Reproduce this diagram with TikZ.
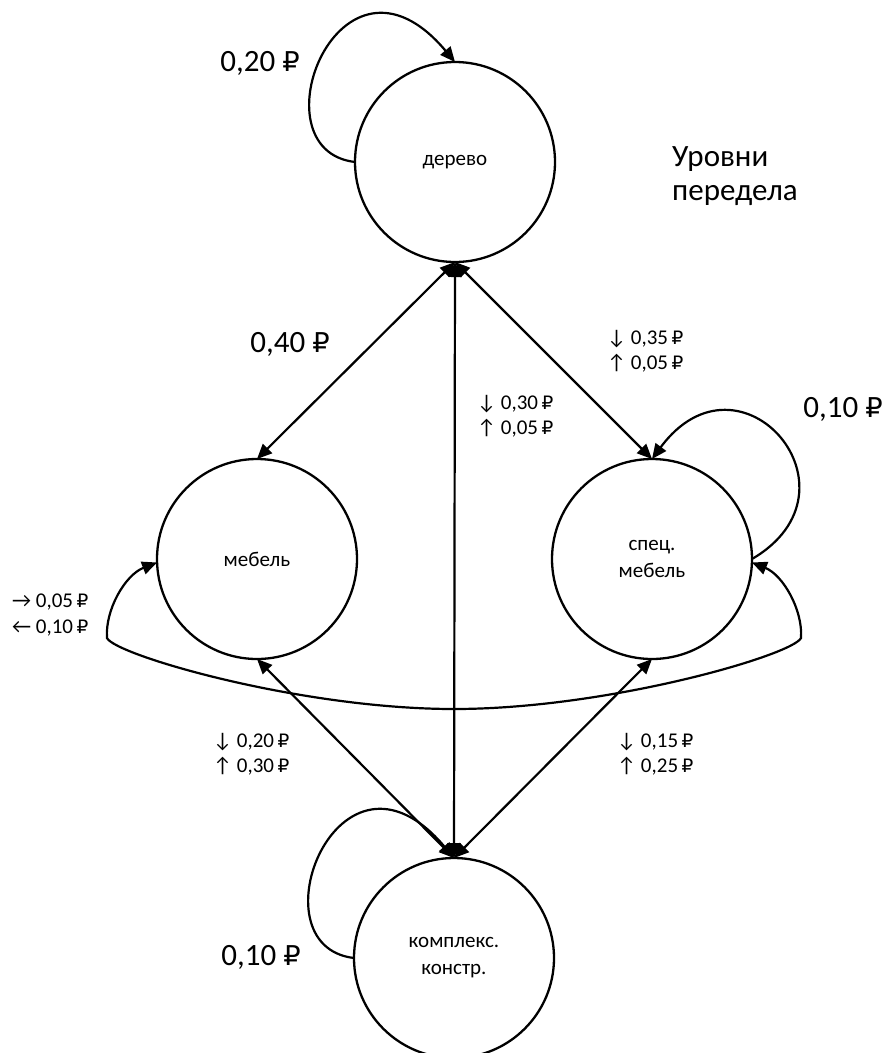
\documentclass[tikz,border=0pt]{standalone}
\usepackage{fontspec}
\setmainfont{Carlito}
\newfontfamily\rubf{DejaVu Sans}[Scale=0.88]
\newcommand\rub{{\rubf ₽}}
\usetikzlibrary{arrows.meta}
\begin{document}
\begin{tikzpicture}[x=1pt,y=-1pt,
  st/.style={circle, draw, line width=2.3pt, minimum size=200pt, inner sep=0pt, outer sep=0pt,
    font=\fontsize{21}{27}\selectfont, align=center},
  tip/.tip={Triangle[length=15pt,width=13pt]},
  conn/.style={line width=2.2pt, tip-tip},
  loopst/.style={line width=2.2pt, -tip},
  big/.style={font=\fontsize{31}{34}\selectfont, inner sep=0pt},
  small/.style={font=\fontsize{21}{25.5}\selectfont, align=left, inner sep=0pt, anchor=west}]
\useasboundingbox (0,0) rectangle (885,1053);
\node[st] (d) at (455,162) {дерево};
\node[st] (m) at (257,559) {мебель};
\node[st] (s) at (652,559) {спец.\\мебель};
\node[st] (k) at (454,958) {комплекс.\\констр.};

\draw[conn] (d.south) -- (m.north);
\draw[conn] (d.south) -- (s.north);
\draw[conn] (d.south) -- (k.north);
\draw[conn] (m.south) -- (k.north);
\draw[conn] (s.south) -- (k.north);

\draw[loopst] (d.west) .. controls +(-103,-12) and +(-115,-137) .. (d.north);
\draw[loopst] (k.west) .. controls +(-103,-12) and +(-115,-137) .. (k.north);
\draw[loopst] (s.east) .. controls +(118,-69) and +(88,-119) .. (s.north);

\draw[conn] (m.182) .. controls (125,575) and (105,610) .. (107,638)
  .. controls (115,655) and (300,709) .. (454,709)
  .. controls (608,709) and (793,655) .. (801,638)
  .. controls (803,610) and (783,575) .. (s.358);

\node[big] (l1) at (260,63) {0,20 \rub};
\node[big] (l2) at (290,344) {0,40 \rub};
\node[big] (l3) at (843,409) {0,10 \rub};
\node[big] (l4) at (261,957) {0,10 \rub};
\node[big, align=left, anchor=west, font=\fontsize{31}{34}\selectfont] (t) at (672,176) {Уровни\\передела};

\node[small] (a1) at (607,351) {↓ 0,35\,\rub\\↑ 0,05\,\rub};
\node[small] (a2) at (477,416) {↓ 0,30\,\rub\\↑ 0,05\,\rub};
\node[small] (a3) at (12,615) {→ 0,05\,\rub\\← 0,10\,\rub};
\node[small] (a4) at (213,754) {↓ 0,20\,\rub\\↑ 0,30\,\rub};
\node[small] (a5) at (617,754) {↓ 0,15\,\rub\\↑ 0,25\,\rub};
\end{tikzpicture}
\end{document}
